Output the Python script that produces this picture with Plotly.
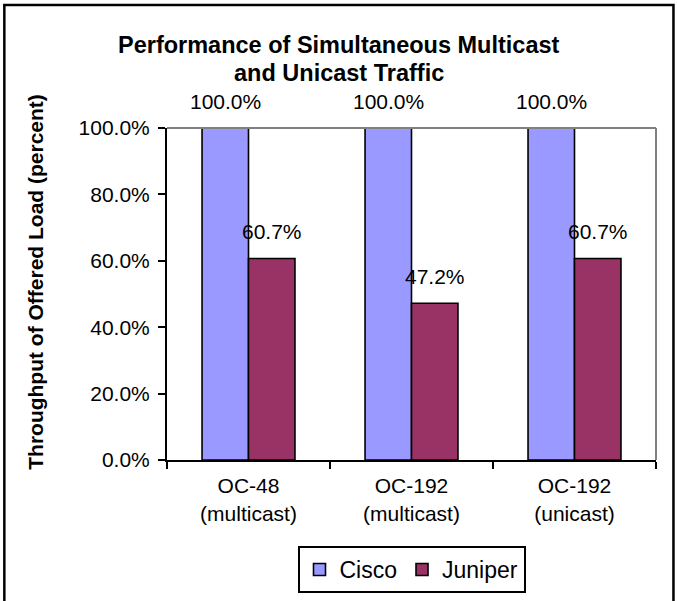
import plotly.graph_objects as go

categories = ["OC-48<br>(multicast)", "OC-192<br>(multicast)", "OC-192<br>(unicast)"]
cisco = [100.0, 100.0, 100.0]
juniper = [60.7, 47.2, 60.7]
series_names = ["Cisco", "Juniper"]
series_colors = ["#9999FF", "#993366"]
tick_vals = [0, 20, 40, 60, 80, 100]
tick_text = ["0.0%", "20.0%", "40.0%", "60.0%", "80.0%", "100.0%"]
title_lines = ["Performance of Simultaneous Multicast", "and Unicast Traffic"]
y_title = "Throughput of Offered Load (percent)"

FONT = "Liberation Sans, Arial, sans-serif"
W, H = 677, 601
L, R, T, B = 166.5, 20.5, 128, 141
pw = W - L - R
ph = H - T - B

def px_x(x):
    return (x - L) / pw

def px_y(y):
    return (H - B - y) / ph

fig = go.Figure()
for name, vals, col in zip(series_names, [cisco, juniper], series_colors):
    fig.add_trace(go.Bar(
        x=categories, y=vals, name=name,
        marker=dict(color=col, line=dict(color="black", width=1.6)),
        hoverinfo="skip",
    ))

annotations = []
offsets = [-0.5, 0.5]
for k, vals in enumerate([cisco, juniper]):
    for i, v in enumerate(vals):
        annotations.append(dict(
            x=i, y=v, xref="x", yref="y", text=f"{v:.1f}%",
            showarrow=False, yanchor="bottom", yshift=13,
            xshift=offsets[k] * 46.5,
            font=dict(family=FONT, size=21, color="black"),
        ))

annotations.append(dict(
    x=px_x(34), y=px_y(282), xref="paper", yref="paper",
    text=f"<b>{y_title}</b>", textangle=-90,
    showarrow=False, xanchor="center", yanchor="middle",
    font=dict(family=FONT, size=21, color="black"),
))
for line, yc in zip(title_lines, [45, 73]):
    annotations.append(dict(
        x=px_x(338.5), y=px_y(yc), xref="paper", yref="paper",
        text=f"<b>{line}</b>", showarrow=False,
        xanchor="center", yanchor="middle",
        font=dict(family=FONT, size=23.5, color="black"),
    ))

fig.update_layout(
    width=W, height=H,
    margin=dict(l=L, r=R, t=T, b=B, autoexpand=False),
    paper_bgcolor="white", plot_bgcolor="white",
    barmode="group", bargap=0.43, bargroupgap=0,
    xaxis=dict(
        type="category", showline=True, linecolor="black", linewidth=2,
        ticks="outside", tickson="boundaries", ticklen=7, tickwidth=2, tickcolor="black",
        showgrid=False, tickfont=dict(family=FONT, size=21, color="black"),
        ticklabelstandoff=6,
    ),
    yaxis=dict(
        range=[0, 100], showline=True, linecolor="black", linewidth=2,
        ticks="outside", ticklen=7, tickwidth=2, tickcolor="black",
        tickvals=tick_vals, ticktext=tick_text, showgrid=False, zeroline=False,
        tickfont=dict(family=FONT, size=21, color="black"),
        ticklabelstandoff=4,
    ),
    showlegend=True,
    legend=dict(
        orientation="h", x=0.5, xanchor="center", y=px_y(546), yanchor="top",
        bordercolor="black", borderwidth=2, bgcolor="white",
        font=dict(family=FONT, size=23, color="black"),
        itemwidth=30, tracegroupgap=0,
    ),
    annotations=annotations,
    shapes=[
        dict(type="line", xref="paper", yref="paper", x0=0, x1=1, y0=1, y1=1,
             line=dict(color="#808080", width=2)),
        dict(type="line", xref="paper", yref="paper", x0=1, x1=1, y0=0, y1=1,
             line=dict(color="#808080", width=2)),
        dict(type="rect", xref="paper", yref="paper",
             x0=px_x(3.5), x1=px_x(674), y0=px_y(620), y1=px_y(5),
             line=dict(color="black", width=2.5)),
    ],
)

fig.write_html("out.html", config={"displayModeBar": False},
               post_script="document.body.style.margin='0';")
